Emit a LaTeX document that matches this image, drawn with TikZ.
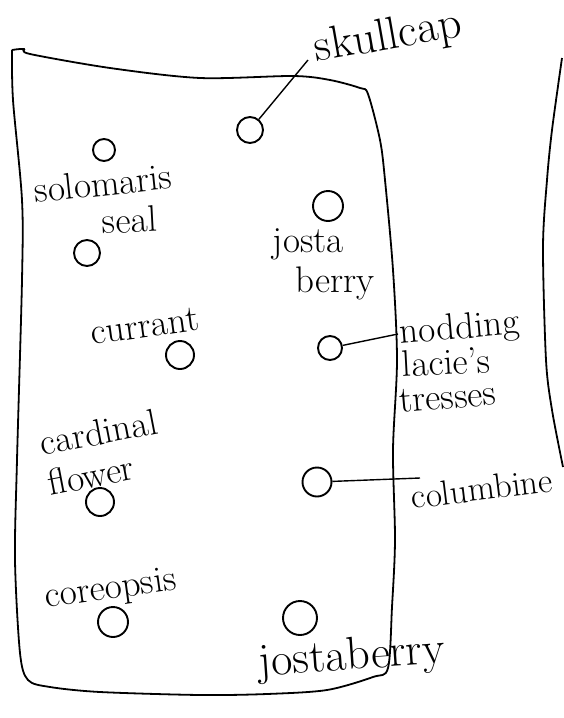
\documentclass[tikz,border=0pt]{standalone}
\usepackage{tikz}
\usetikzlibrary{positioning}

\tikzset{
  plant/.style={draw, circle, line width=1.9pt, minimum size=26pt, inner sep=0pt},
  plantname/.style={anchor=base west, inner sep=0pt, font=\fontsize{37}{37}\selectfont},
  bigname/.style={plantname, font=\fontsize{46}{46}\selectfont},
  leader/.style={line width=1.4pt},
}

\begin{document}
\begin{tikzpicture}[x=1pt,y=-1pt,line width=1.8pt]
  \useasboundingbox (0,0) rectangle (564,718);

  % Draw the bed
  \draw plot[smooth, tension=0.5] coordinates {(12,50) (24,49) (30,54) (110,68) (200,78) (293,76) (330,80) (360,88) (368,94) (380,140) (385,180) (393,270) (397,360) (393,450) (395,540) (392,607) (388,668) (373,677) (327,690) (267,694) (200,695) (100,692) (50,687) (28,680) (20,653) (15,560) (17,460) (22,280) (22,200) (13,100) (12,50)};

  % Draw the edge on the right
  \draw plot[smooth] coordinates {(562,58) (552,130) (547,180) (543,247) (546,360) (552,410) (563,467)};

  % Draw the plants
  \node[plant] (skullcap) at (250,130) {};
  \node[plant, minimum size=22pt] (solomon top) at (104,150) {};
  \node[plant] (solomon low) at (87,253) {};
  \node[plant, minimum size=30pt] (josta top) at (328,206) {};
  \node[plant, minimum size=28pt] (currant) at (180,355) {};
  \node[plant, minimum size=24pt] (nodding) at (330,348) {};
  \node[plant, minimum size=28pt] (cardinal) at (100,502) {};
  \node[plant, minimum size=29pt] (columbine) at (317,482) {};
  \node[plant, minimum size=30pt] (coreopsis) at (113,622) {};
  \node[plant, minimum size=34pt] (josta low) at (300,618) {};

  % Add labels
  \node[bigname, rotate=10] (skullcap label) at (316,62) {skullcap};
  \node[plantname, rotate=6] (solomon label) at (35,203) {solomaris};
  \node[plantname, rotate=3] (seal label) at (102,234) {seal};
  \node[plantname] (josta label) at (272,252) {josta};
  \node[plantname] (berry label) at (295,292) {berry};
  \node[plantname, rotate=8] (currant label) at (92,345) {currant};
  \node[plantname, rotate=5] (nodding label) at (400,344) {nodding};
  \node[plantname, rotate=3] (lacies label) at (402,377) {lacie's};
  \node[plantname, rotate=5] (tresses label) at (400,413) {tresses};
  \node[plantname, rotate=11] (cardinal label) at (42,456) {cardinal};
  \node[plantname, rotate=11] (flower label) at (50,496) {flower};
  \node[plantname, rotate=7, font=\fontsize{35}{35}\selectfont] (columbine label) at (412,509) {columbine};
  \node[plantname, rotate=8] (coreopsis label) at (46,608) {coreopsis};
  \node[bigname, rotate=4] (jostaberry label) at (259,676) {jostaberry};

  % Draw the leaders
  \coordinate (skullcap end) at (308,60);
  \coordinate (nodding end) at (398,334);
  \coordinate (columbine end) at (420,478);
  \draw[leader] (skullcap) -- (skullcap end);
  \draw[leader] (nodding) -- (nodding end);
  \draw[leader] (columbine) -- (columbine end);
\end{tikzpicture}
\end{document}
